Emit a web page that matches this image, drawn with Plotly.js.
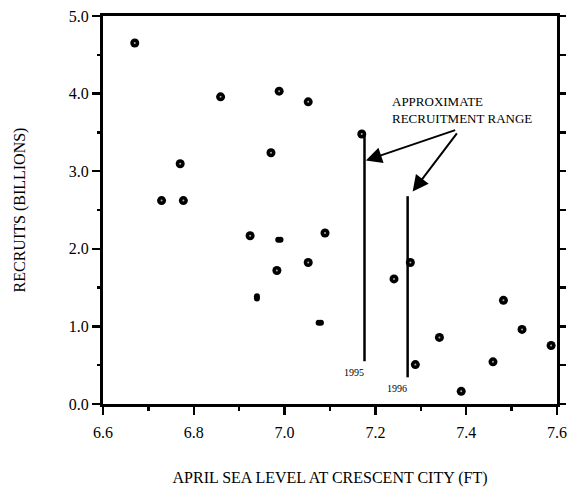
<!DOCTYPE html>
<html>
<head>
<meta charset="utf-8">
<script src="https://cdn.plot.ly/plotly-3.0.1.min.js"></script>
<style>html,body{margin:0;padding:0;background:#fff;}#chart{width:567px;height:487px;}</style>
</head>
<body>
<div id="chart"></div>
<script>
// Observed points: April sea level (ft) vs recruits (billions)
const seaLevel = [6.670, 6.729, 6.777, 6.770, 6.859, 6.988, 6.970, 7.052, 6.924, 7.089, 6.983, 7.052, 7.170, 7.241, 7.277, 7.288, 7.341, 7.389, 7.459, 7.482, 7.523, 7.587];
const recruits = [4.652, 2.621, 2.621, 3.096, 3.958, 4.031, 3.238, 3.894, 2.168, 2.203, 1.721, 1.824, 3.480, 1.612, 1.824, 0.508, 0.858, 0.163, 0.543, 1.336, 0.961, 0.754];
// Overlapping (smeared) points
const smudgeX = [6.986, 6.991, 6.939, 6.939, 7.075, 7.080];
const smudgeY = [2.117, 2.117, 1.390, 1.360, 1.048, 1.048];
// Approximate recruitment ranges
const rangeYear = ['1995', '1996'];
const rangeX = [7.176, 7.271];
const rangeLow = [0.551, 0.344];
const rangeHigh = [3.480, 2.678];
// Axis ticks
const xTicks = [6.6, 6.8, 7.0, 7.2, 7.4, 7.6];
const yTicks = [0.0, 1.0, 2.0, 3.0, 4.0, 5.0];

const FONT = 'Liberation Serif, Times New Roman, serif';

const lx = [], ly = [];
rangeX.forEach((x, i) => { lx.push(x, x, null); ly.push(rangeLow[i], rangeHigh[i], null); });

const traces = [
  {x: lx, y: ly, xaxis: 'x', yaxis: 'y2', mode: 'lines', line: {color: '#000', width: 2.5}, hoverinfo: 'skip', showlegend: false},
  {x: seaLevel, y: recruits, mode: 'markers', marker: {color: '#000', size: 9, symbol: 'circle'}, showlegend: false},
  {x: seaLevel, y: recruits, mode: 'markers', marker: {color: '#aaa', size: 2, symbol: 'circle'}, hoverinfo: 'skip', showlegend: false},
  {x: smudgeX, y: smudgeY, mode: 'markers', marker: {color: '#000', size: 6, symbol: 'circle'}, showlegend: false}
];

const annotations = [
  {x: 7.232, y: 3.79, xref: 'x', yref: 'y', xanchor: 'left', yanchor: 'middle', align: 'left', showarrow: false,
   text: 'APPROXIMATE<br>RECRUITMENT RANGE', font: {family: FONT, size: 13, color: '#000'}},
  {x: 7.179, y: 3.138, ax: 7.379, ay: 3.536, xref: 'x', yref: 'y', axref: 'x', ayref: 'y', text: '', showarrow: true,
   arrowhead: 2, arrowsize: 1.6, arrowwidth: 2, arrowcolor: '#000', standoff: 0},
  {x: 7.282, y: 2.737, ax: 7.382, ay: 3.507, xref: 'x', yref: 'y', axref: 'x', ayref: 'y', text: '', showarrow: true,
   arrowhead: 2, arrowsize: 1.6, arrowwidth: 2, arrowcolor: '#000', standoff: 0}
];
rangeYear.forEach((yr, i) => {
  annotations.push({x: rangeX[i], y: rangeLow[i], xref: 'x', yref: 'y', xanchor: 'right', yanchor: 'top',
    xshift: 1, yshift: -4, showarrow: false, text: yr, font: {family: FONT, size: 10, color: '#000'}});
});

const layout = {
  width: 567, height: 487,
  margin: {l: 103, r: 10, t: 16, b: 83},
  paper_bgcolor: '#fff', plot_bgcolor: '#fff',
  font: {family: FONT, color: '#000', size: 16},
  xaxis: {
    range: [6.6, 7.6], tickvals: xTicks, ticktext: xTicks.map(v => v.toFixed(1)),
    showline: true, linewidth: 3, linecolor: '#000', mirror: true,
    ticks: 'outside', ticklen: 8, tickwidth: 2.5, tickcolor: '#000',
    minor: {dtick: 0.1, tick0: 6.6, ticks: 'outside', ticklen: 4, tickwidth: 2.5, tickcolor: '#000', showgrid: false},
    showgrid: false, zeroline: false, ticklabelstandoff: 4,
    tickfont: {family: FONT, size: 16, color: '#000'},
    title: {text: 'APRIL SEA LEVEL AT CRESCENT CITY (FT)', font: {family: FONT, size: 16, color: '#000'}, standoff: 36}
  },
  yaxis: {
    range: [0, 5], tickvals: yTicks, ticktext: yTicks.map(v => v.toFixed(1)),
    showline: true, linewidth: 3, linecolor: '#000', mirror: true,
    ticks: 'outside', ticklen: 8, tickwidth: 2.5, tickcolor: '#000',
    minor: {dtick: 0.5, tick0: 0, ticks: 'outside', ticklen: 3, tickwidth: 2.5, tickcolor: '#000', showgrid: false},
    showgrid: false, zeroline: false,
    tickfont: {family: FONT, size: 16, color: '#000'},
    title: {text: 'RECRUITS (BILLIONS)', font: {family: FONT, size: 16, color: '#000'}, standoff: 40}
  },
  yaxis2: {
    range: [0, 5], overlaying: 'y', side: 'right', dtick: 0.5, tick0: 0,
    ticks: 'outside', ticklen: 8, tickwidth: 2.5, tickcolor: '#000',
    showticklabels: false, showline: false, showgrid: false, zeroline: false
  },
  annotations: annotations,
  showlegend: false
};

Plotly.newPlot('chart', traces, layout, {staticPlot: true, displayModeBar: false});
</script>
</body>
</html>
